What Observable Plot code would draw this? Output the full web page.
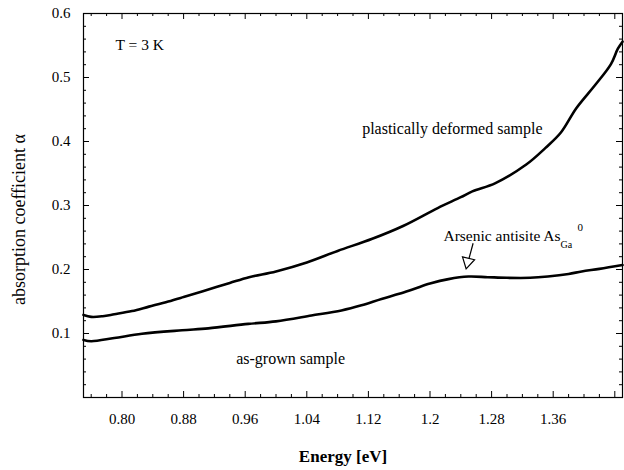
<!DOCTYPE html>
<html>
<head>
<meta charset="utf-8">
<script src="https://cdn.jsdelivr.net/npm/d3@7"></script>
<script src="https://cdn.jsdelivr.net/npm/@observablehq/plot@0.6"></script>
<style>
  html, body { margin: 0; padding: 0; background: #fff; }
  #chart svg { display: block; }
  #chart svg, #chart svg text { font-family: "Liberation Serif", "Times New Roman", serif !important; }
</style>
</head>
<body>
<div id="chart"></div>
<script>
// ---- data ----
const deformedEnergy = [0.750, 0.760, 0.775, 0.790, 0.813, 0.835, 0.860, 0.880, 0.905, 0.940, 0.965, 1.000, 1.040, 1.080, 1.125, 1.165, 1.210, 1.240, 1.255, 1.285, 1.325, 1.350, 1.370, 1.390, 1.415, 1.435, 1.444, 1.450];
const deformedAlpha  = [0.129, 0.126, 0.127, 0.130, 0.135, 0.142, 0.150, 0.157, 0.166, 0.179, 0.188, 0.197, 0.211, 0.229, 0.248, 0.268, 0.296, 0.313, 0.322, 0.335, 0.364, 0.390, 0.414, 0.452, 0.489, 0.521, 0.545, 0.556];

const grownEnergy = [0.750, 0.760, 0.790, 0.826, 0.878, 0.912, 0.964, 1.000, 1.046, 1.085, 1.111, 1.137, 1.160, 1.180, 1.200, 1.224, 1.250, 1.275, 1.300, 1.330, 1.353, 1.380, 1.397, 1.420, 1.450];
const grownAlpha  = [0.090, 0.088, 0.093, 0.0995, 0.105, 0.108, 0.115, 0.119, 0.128, 0.136, 0.144, 0.154, 0.162, 0.170, 0.178, 0.185, 0.189, 0.188, 0.187, 0.187, 0.189, 0.193, 0.197, 0.201, 0.207];

const xTickValues = [0.80, 0.88, 0.96, 1.04, 1.12, 1.20, 1.28, 1.36];
const xTickLabels = ["0.80", "0.88", "0.96", "1.04", "1.12", "1.2", "1.28", "1.36"];
const xMajorTicks = [0.80, 0.88, 0.96, 1.04, 1.12, 1.20, 1.28, 1.36, 1.44];
const yTickValues = [0.1, 0.2, 0.3, 0.4, 0.5, 0.6];
const yTickLabels = ["0.1", "0.2", "0.3", "0.4", "0.5", "0.6"];

const xDomain = [0.75, 1.45];
const yDomain = [0, 0.6];

const xTitle = "Energy [eV]";
const yTitle = "absorption coefficient α";

// annotation texts with anchor positions in data units
const labelTexts   = ["T = 3 K", "plastically deformed sample", "as-grown sample"];
const labelEnergy  = [0.823, 1.229, 1.019];
const labelAlpha   = [0.550, 0.420, 0.060];
const labelWeight  = ["bold", "normal", "normal"];
const labelSize    = [15.5, 16, 16];

const antisiteText = "Arsenic antisite As";
const antisiteAt = {e: 1.2175, a: 0.253};
const subAt = {e: 1.3695, a: 0.238};
const supAt = {e: 1.3915, a: 0.266};
const arrowFrom = {e: 1.2560, a: 0.2410};
const arrowTo = {e: 1.2505, a: 0.2165};
const arrowHead = {e: 1.2490, a: 0.2120};

// ---- build tables ----
const deformed = deformedEnergy.map((e, i) => ({e, a: deformedAlpha[i]}));
const grown = grownEnergy.map((e, i) => ({e, a: grownAlpha[i]}));
const labels = labelTexts.map((t, i) => ({t, e: labelEnergy[i], a: labelAlpha[i], w: labelWeight[i], s: labelSize[i]}));

const xMinor = d3.range(38, 73).map(k => +(k * 0.02).toFixed(2)).filter(v => v > 0.75 && v < 1.45 && !xMajorTicks.some(m => Math.abs(m - v) < 1e-9));
const yMinor = d3.range(1, 30).map(k => +(k * 0.02).toFixed(2)).filter(v => !yTickValues.some(m => Math.abs(m - v) < 1e-9));
const yMajor = yTickValues;

const W = 624, H = 470;
const mL = 83, mR = 2, mT = 13, mB = 73;
const pw = W - mL - mR, ph = H - mT - mB;
const MAJ = 6, MIN = 3;

const xLab = new Map(xTickValues.map((v, i) => [v.toFixed(2), xTickLabels[i]]));
const yLab = new Map(yTickValues.map((v, i) => [v.toFixed(2), yTickLabels[i]]));

const font = "Liberation Serif, Times New Roman, serif";

const chart = Plot.plot({
  width: W,
  height: H,
  marginLeft: mL,
  marginRight: mR,
  marginTop: mT,
  marginBottom: mB,
  style: {fontFamily: font, background: "#fff", color: "#000"},
  x: {domain: xDomain, axis: null},
  y: {domain: yDomain, axis: null},
  marks: [
    Plot.frame({stroke: "#000", strokeWidth: 1.2}),
    // inward ticks: left / right
    Plot.tickY(yMajor, {y: d => d, insetRight: pw - MAJ, stroke: "#000"}),
    Plot.tickY(yMinor, {y: d => d, insetRight: pw - MIN, stroke: "#000"}),
    Plot.tickY(yMajor, {y: d => d, insetLeft: pw - MAJ, stroke: "#000"}),
    Plot.tickY(yMinor, {y: d => d, insetLeft: pw - MIN, stroke: "#000"}),
    // inward ticks: bottom / top
    Plot.tickX(xMajorTicks, {x: d => d, insetTop: ph - MAJ, stroke: "#000"}),
    Plot.tickX(xMinor, {x: d => d, insetTop: ph - MIN, stroke: "#000"}),
    Plot.tickX(xMajorTicks, {x: d => d, insetBottom: ph - MAJ, stroke: "#000"}),
    Plot.tickX(xMinor, {x: d => d, insetBottom: ph - MIN, stroke: "#000"}),
    // tick labels
    Plot.axisX(xTickValues, {anchor: "bottom", label: null, tickSize: 0, tickPadding: 16, fontSize: 15, tickFormat: d => xLab.get(d.toFixed(2)), fill: "#000"}),
    Plot.axisY(yTickValues, {anchor: "left", label: null, tickSize: 0, tickPadding: 13, fontSize: 15, tickFormat: d => yLab.get(d.toFixed(2)), fill: "#000"}),
    // axis titles
    Plot.text([xTitle], {frameAnchor: "bottom", textAnchor: "middle", lineAnchor: "middle", dx: -10, dy: 59, fontSize: 17, fontWeight: "bold", fill: "#000"}),
    Plot.text([yTitle], {frameAnchor: "left", textAnchor: "middle", lineAnchor: "middle", rotate: -90, dx: -64, dy: 14, fontSize: 18, fill: "#000"}),
    // curves
    Plot.line(deformed, {x: "e", y: "a", curve: "catmull-rom", stroke: "#000", strokeWidth: 2.6}),
    Plot.line(grown, {x: "e", y: "a", curve: "catmull-rom", stroke: "#000", strokeWidth: 2.6}),
    // annotations
    Plot.text(labels, {x: "e", y: "a", text: "t", fontSize: d => d.s, fontWeight: d => d.w, fill: "#000"}),
    Plot.text([antisiteText], {x: () => antisiteAt.e, y: () => antisiteAt.a, textAnchor: "start", fontSize: 15.5, fill: "#000"}),
    Plot.text(["Ga"], {x: () => subAt.e, y: () => subAt.a, textAnchor: "start", fontSize: 10, fill: "#000"}),
    Plot.text(["0"], {x: () => supAt.e, y: () => supAt.a, textAnchor: "start", fontSize: 11, fill: "#000"}),
    Plot.link([0], {x1: () => arrowFrom.e, y1: () => arrowFrom.a, x2: () => arrowTo.e, y2: () => arrowTo.a, stroke: "#000", strokeWidth: 1.2}),
    Plot.dot([0], {x: () => arrowHead.e, y: () => arrowHead.a, symbol: "triangle", r: 4.6, rotate: 193, fill: "#fff", stroke: "#000", strokeWidth: 1.2})
  ]
});

document.getElementById("chart").appendChild(chart);
</script>
</body>
</html>
